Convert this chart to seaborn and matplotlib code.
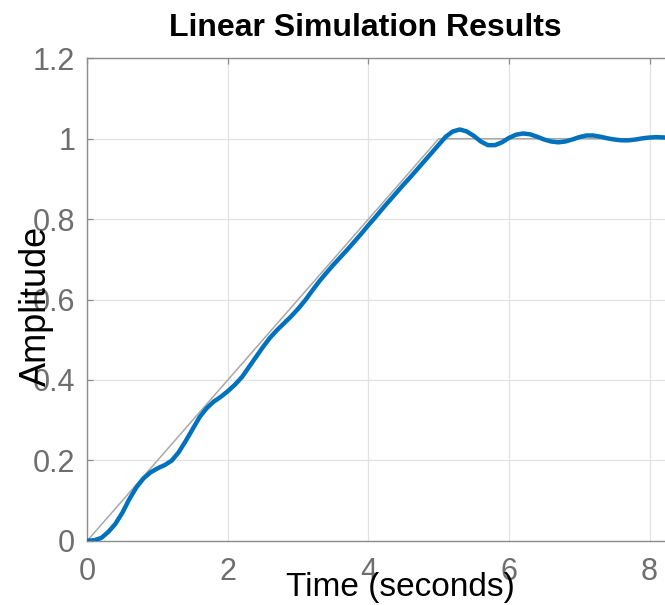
import pandas as pd
import seaborn as sns
import matplotlib
matplotlib.use('Agg')
import matplotlib.pyplot as plt

# input signal (ramp to 1 at t=5, then hold)
input_time = [0.0, 5.0, 8.22]
input_amp = [0.0, 1.0, 1.0]

# simulated response
resp_time = [0.0, 0.1, 0.2, 0.3, 0.4, 0.5, 0.6, 0.7, 0.8, 0.9,
             1.0, 1.1, 1.2, 1.3, 1.4, 1.5, 1.6, 1.7, 1.8, 1.9,
             2.0, 2.1, 2.2, 2.3, 2.4, 2.5, 2.6, 2.7, 2.8, 2.9,
             3.0, 3.1, 3.2, 3.3, 3.4, 3.5, 3.6, 3.7, 3.8, 3.9,
             4.0, 4.1, 4.2, 4.3, 4.4, 4.5, 4.6, 4.7, 4.8, 4.9,
             5.0, 5.1, 5.2, 5.3, 5.4, 5.5, 5.6, 5.7, 5.8, 5.9,
             6.0, 6.1, 6.2, 6.3, 6.4, 6.5, 6.6, 6.7, 6.8, 6.9,
             7.0, 7.1, 7.2, 7.3, 7.4, 7.5, 7.6, 7.7, 7.8, 7.9,
             8.0, 8.1, 8.22]
resp_amp = [0.000, 0.001, 0.007, 0.022, 0.042, 0.070, 0.104, 0.133, 0.155, 0.170,
            0.180, 0.188, 0.199, 0.220, 0.248, 0.278, 0.308, 0.330, 0.346, 0.358,
            0.372, 0.388, 0.407, 0.432, 0.457, 0.482, 0.505, 0.524, 0.541, 0.558,
            0.577, 0.598, 0.622, 0.645, 0.666, 0.686, 0.705, 0.724, 0.744, 0.764,
            0.785, 0.805, 0.826, 0.846, 0.866, 0.886, 0.905, 0.925, 0.945, 0.965,
            0.985, 1.005, 1.018, 1.023, 1.018, 1.007, 0.993, 0.984, 0.984, 0.991,
            1.002, 1.010, 1.013, 1.011, 1.005, 0.998, 0.993, 0.991, 0.993, 0.998,
            1.004, 1.008, 1.008, 1.005, 1.001, 0.998, 0.996, 0.996, 0.998, 1.001,
            1.003, 1.004, 1.003]

x_ticks = [0, 2, 4, 6, 8]
y_ticks = [0, 0.2, 0.4, 0.6, 0.8, 1, 1.2]
y_tick_labels = ['0', '0.2', '0.4', '0.6', '0.8', '1', '1.2']

inp = pd.DataFrame({'t': input_time, 'u': input_amp})
resp = pd.DataFrame({'t': resp_time, 'y': resp_amp})

sns.set_theme(style='whitegrid')
plt.rcParams['font.family'] = ['Liberation Sans', 'DejaVu Sans']

fig = plt.figure(figsize=(6.65, 6.05), dpi=100)
ax = fig.add_axes([0.1313, 0.1063, 0.8687, 0.7973])
ax.set_facecolor('white')

sns.lineplot(data=inp, x='t', y='u', ax=ax, color='#a8a8a8', linewidth=1.1, zorder=3)
sns.lineplot(data=resp, x='t', y='y', ax=ax, color='#0072BD', linewidth=3.2, zorder=4)

ax.set_xlim(0, 8.22)
ax.set_ylim(0, 1.2)
ax.set_xticks(x_ticks)
ax.set_xticklabels([str(v) for v in x_ticks])
ax.set_yticks(y_ticks)
ax.set_yticklabels(y_tick_labels)
ax.set_xlabel('')
ax.set_ylabel('')

ax.grid(True, color='#e2e2e2', linewidth=0.9)
for side in ['left', 'bottom', 'top']:
    ax.spines[side].set_visible(True)
    ax.spines[side].set_color('#8c8c8c')
    ax.spines[side].set_linewidth(1.0)
ax.spines['right'].set_visible(False)

ax.tick_params(axis='both', direction='in', length=4.3, width=0.9,
               color='#8c8c8c', labelcolor='#6e6e6e', labelsize=22)
ax.tick_params(axis='x', top=True, pad=12)
ax.tick_params(axis='y', left=True, pad=8.6)

fig.text(365 / 665, 1 - 36 / 605, 'Linear Simulation Results', ha='center',
         va='baseline', fontsize=23, fontweight='bold', color='black')
fig.text(400 / 665, 1 - 596 / 605, 'Time (seconds)', ha='center',
         va='baseline', fontsize=24, color='black')
fig.text(36 / 665, 1 - 306 / 605, 'Amplitude', ha='center', va='center',
         rotation=90, fontsize=26, color='black')

fig.savefig('out.png', dpi=100)
